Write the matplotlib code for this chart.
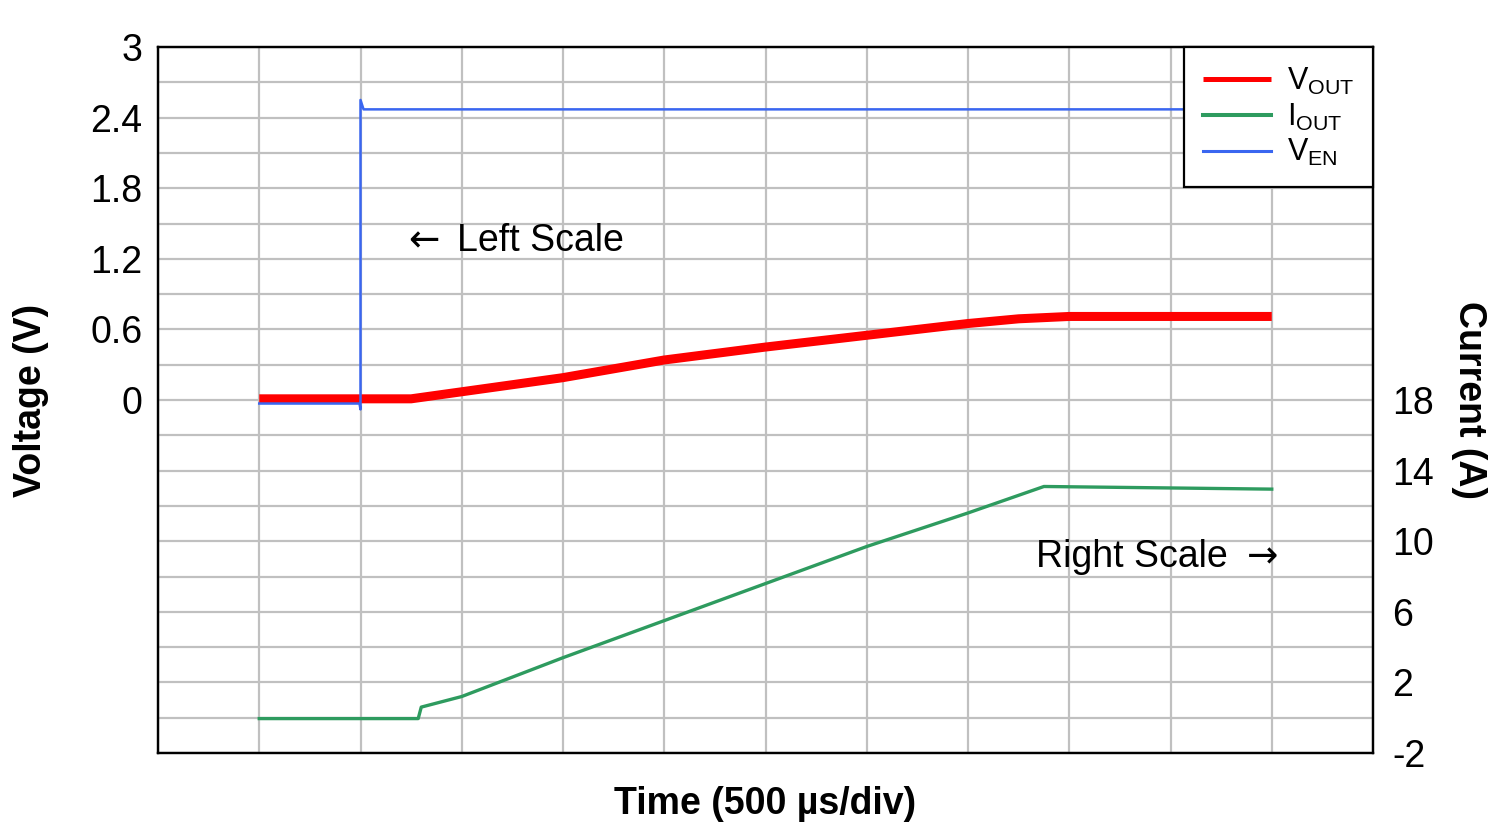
import numpy as np
import matplotlib
matplotlib.use("Agg")
import matplotlib.pyplot as plt

plt.rcParams['font.family'] = ['Liberation Sans', 'DejaVu Sans']
plt.rcParams['mathtext.fontset'] = 'custom'
plt.rcParams['mathtext.rm'] = 'Liberation Sans'

# time in divisions (500 us/div)
vout_t = [0, 1.5, 2.0, 2.5, 3.0, 4.0, 5.0, 6.0, 7.0, 7.5, 8.0, 10.0]
vout_v = [0.01, 0.01, 0.07, 0.13, 0.19, 0.34, 0.45, 0.55, 0.65, 0.69, 0.71, 0.71]

iout_t = [0, 1.57, 1.6, 2.0, 2.5, 3.0, 4.0, 5.0, 6.0, 7.0, 7.75, 10.0]
iout_a = [-0.05, -0.05, 0.6, 1.2, 2.3, 3.4, 5.5, 7.6, 9.7, 11.6, 13.1, 12.95]

ven_t = [0, 0.99, 1.0, 1.0, 1.03, 10.0]
ven_v = [-0.03, -0.03, -0.08, 2.55, 2.47, 2.47]

left_ticks = [0, 0.6, 1.2, 1.8, 2.4, 3]
left_labels = ['0', '0.6', '1.2', '1.8', '2.4', '3']
right_ticks = [-2, 2, 6, 10, 14, 18]

FS = 27

fig = plt.figure(figsize=(15, 8.27), dpi=100)
ax = fig.add_axes([158 / 1500, 1 - 753 / 827, (1373 - 158) / 1500, (753 - 47) / 827])
ax2 = ax.twinx()

ax.set_xlim(-1, 11)
ax.set_ylim(-3, 3)
ax2.set_ylim(-2, 38)

# grid: every division in x, every 0.3 V in y
ax.set_xticks(np.arange(-1, 12, 1))
ax.set_xticklabels([])
ax.set_yticks(np.arange(-3, 3.01, 0.3), minor=True)
ax.set_yticks(left_ticks)
ax.set_yticklabels(left_labels)
ax.grid(True, which='both', color='#c0c0c0', lw=1.6)
ax.set_axisbelow(True)
ax.tick_params(axis='both', which='both', length=0)
ax.tick_params(axis='y', labelsize=FS, pad=11)

ax2.set_yticks(right_ticks)
ax2.set_yticklabels([str(v) for v in right_ticks])
ax2.tick_params(axis='y', length=0, labelsize=FS, pad=14)

for a in (ax, ax2):
    for s in a.spines.values():
        s.set_linewidth(1.6)
        s.set_color('black')

l1, = ax.plot(vout_t, vout_v, color='#ff0000', lw=6.5, solid_capstyle='butt', label=r'V$_{\mathrm{OUT}}$')
l3, = ax.plot(ven_t, ven_v, color='#3a66f0', lw=1.8, label=r'V$_{\mathrm{EN}}$')
l2, = ax2.plot(iout_t, iout_a, color='#2e9b5f', lw=2.4, label=r'I$_{\mathrm{OUT}}$')

ax.set_ylabel('Voltage (V)', fontsize=FS, fontweight='bold', labelpad=30)
ax2.set_ylabel('Current (A)', fontsize=FS, fontweight='bold', rotation=-90, labelpad=38)
ax.set_xlabel('Time (500 µs/div)', fontsize=FS, fontweight='bold', labelpad=20)

# annotations; arrows drawn in DejaVu Sans which has longer arrow glyphs
ax.text(1.47, 1.35, '←', fontsize=FS, family='DejaVu Sans', va='center', ha='left')
ax.text(1.95, 1.35, 'Left Scale', fontsize=FS, va='center', ha='left')
ax2.text(9.57, 9.1, 'Right Scale', fontsize=FS, va='center', ha='right')
ax2.text(10.06, 9.1, '→', fontsize=FS, family='DejaVu Sans', va='center', ha='right')

leg = ax2.legend(handles=[l1, l2, l3], loc='upper right', borderaxespad=0,
                 fancybox=False, framealpha=1, edgecolor='black', fontsize=22,
                 handlelength=2.25, handletextpad=0.5, labelspacing=0.15,
                 borderpad=0.62)
leg.get_frame().set_linewidth(1.6)
for h, w in zip(leg.legend_handles, [3.6, 2.9, 2.2]):
    h.set_linewidth(w)

fig.savefig('out.png', dpi=100)
